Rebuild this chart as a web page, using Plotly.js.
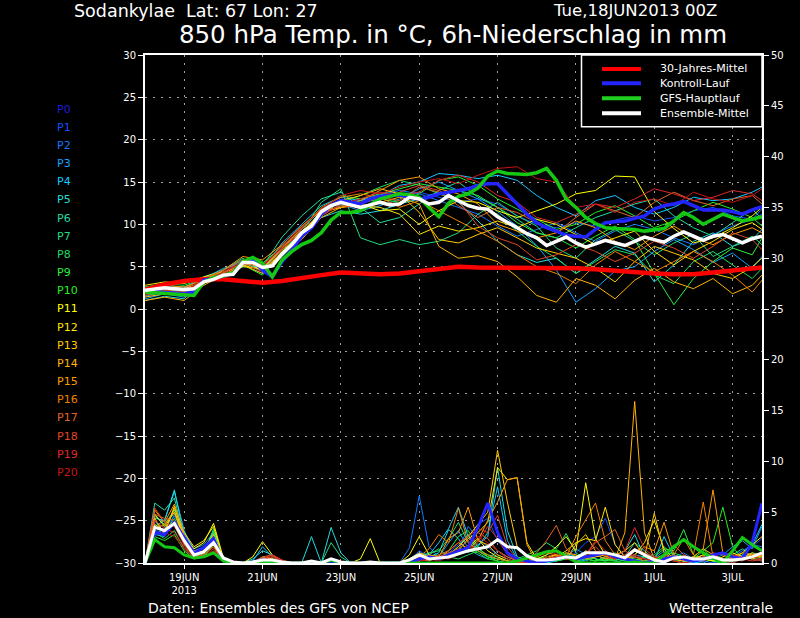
<!DOCTYPE html>
<html><head><meta charset="utf-8">
<script src="https://cdn.plot.ly/plotly-3.0.1.min.js"></script>
<style>html,body{margin:0;padding:0;background:#000;}#chart{width:800px;height:618px;}</style>
</head><body><div id="chart"></div>
<script>
// ---------- time axes (hours since 18JUN2013 00Z) ----------
const hours12 = [0,12,24,36,48,60,72,84,96,108,120,132,144,156,168,180,192,204,216,228,240,252,264,276,288,300,312,324,336,348,360,372,378];
const hours6 = [0,6,12,18,24,30,36,42,48,54,60,66,72,78,84,90,96,102,108,114,120,126,132,138,144,150,156,162,168,174,180,186,192,198,204,210,216,222,228,234,240,246,252,258,264,270,276,282,288,294,300,306,312,318,324,330,336,342,348,354,360,366,372,378];
const tickHours = [24,72,120,168,216,264,312,360];
const tickLabels = ["19JUN<br>2013","21JUN","23JUN","25JUN","27JUN","29JUN","1JUL","3JUL"];

// ---------- 850 hPa temperature, members P1..P20 (12h) ----------
const tP1 = [1.8,2.3,2.0,3.0,4.3,5.8,4.5,7.2,9.5,11.8,13.0,12.5, 13.0,13.4,13.8,13.2,12.6,13.0,12.4,11.0,10.0,9.6,10.2,9.8,10.5,11.0,10.4,10.8,11.6,12.0,11.0,10.6,11.2];
const tP2 = [1.5,2.0,1.8,3.4,4.0,5.2,4.2,6.6,9.0,11.2,12.2,12.8, 13.5,14.0,13.6,12.8,12.0,11.2,9.8,8.6,9.4,10.2,9.0,8.0,9.2,10.0,9.4,8.4,7.6,8.8,9.8,10.6,11.8];
const tP3 = [1.2,1.8,1.4,3.0,4.4,5.6,5.2,7.4,9.6,11.0,12.4,11.6, 12.2,13.0,14.2,15.0,14.0,13.0,11.5,9.8,7.5,4.6,0.8,2.4,4.5,5.0,6.8,8.2,7.0,5.5,6.6,4.8,6.2];
const tP4 = [2.4,2.8,2.6,3.6,4.8,5.4,4.6,7.8,10.0,12.2,13.2,12.8, 13.4,14.6,15.0,16.0,15.8,15.4,15.8,15.2,13.4,12.0,11.0,12.8,13.4,12.0,11.2,12.0,13.2,12.8,13.0,13.8,14.4];
const tP5 = [1.0,1.5,1.2,3.5,3.6,5.0,5.0,6.2,8.6,10.8,11.6,11.2, 11.6,12.4,13.0,13.8,12.6,10.4,8.0,6.4,5.5,6.0,4.2,5.8,7.4,6.6,3.2,5.2,8.0,9.0,7.4,8.2,9.4];
const tP6 = [2.0,2.6,2.4,3.8,4.6,5.8,5.0,8.5,11.0,13.0,13.8,12.0, 10.2,10.8,12.4,14.0,15.0,13.2,12.0,10.6,9.0,8.4,9.6,10.8,11.6,12.4,13.0,11.0,9.6,8.6,10.2,11.8,10.6];
const tP7 = [2.2,2.4,2.0,3.0,4.6,6.0,4.4,6.8,9.0,12.6,14.2,8.4, 7.6,8.2,7.6,8.0,9.0,11.2,12.6,11.0,9.8,7.2,6.0,8.2,9.4,8.0,6.4,7.8,8.8,6.2,7.4,8.6,7.6];
const tP8 = [1.9,2.2,2.1,3.2,4.2,5.4,4.6,7.0,9.0,11.6,12.6,13.4, 14.4,15.2,14.6,13.6,12.8,12.0,11.2,9.2,7.4,6.0,4.2,5.6,7.0,6.4,4.0,3.0,5.6,6.8,5.2,3.6,4.8];
const tP9 = [2.6,3.0,2.8,3.6,4.2,5.6,5.4,7.4,9.4,11.8,13.4,13.0, 13.6,14.2,14.8,14.4,14.0,13.4,12.0,10.2,9.0,8.4,7.2,8.6,9.8,8.2,4.2,0.5,3.6,5.6,7.2,6.4,8.4];
const tP10 = [1.6,2.0,1.8,3.2,3.8,5.2,4.0,6.8,8.8,11.4,12.2,12.6, 13.0,12.6,13.6,15.2,15.6,14.6,13.0,11.8,10.6,9.4,10.0,11.4,12.2,11.0,9.6,10.4,11.6,12.6,11.8,10.8,9.8];
const tP11 = [2.0,2.6,2.4,3.2,4.0,5.2,4.6,6.6,9.0,11.4,12.0,12.4, 11.6,11.8,10.0,11.6,12.8,12.6,11.6,10.8,11.6,12.4,13.6,14.0,15.7,15.6,11.5,9.5,7.8,8.4,9.6,11.0,12.0];
const tP12 = [2.8,3.2,3.0,3.8,4.4,5.0,4.8,7.2,9.2,11.0,12.8,12.2, 12.0,11.2,8.8,9.8,9.2,9.6,10.4,9.6,10.6,10.0,8.8,7.6,8.4,9.2,6.8,5.2,6.8,8.0,9.4,10.2,9.4];
const tP13 = [1.4,1.8,1.6,3.4,4.2,5.6,4.8,7.0,8.6,11.0,12.8,13.4, 14.2,13.6,11.4,8.2,7.8,8.8,9.6,8.4,7.2,6.6,6.0,4.8,3.2,5.6,7.4,6.6,5.8,4.2,3.6,5.0,6.0];
const tP14 = [1.0,1.4,1.0,2.8,4.0,5.2,4.2,6.8,8.2,10.8,12.0,12.2, 12.6,13.2,12.4,7.4,6.0,6.3,5.6,3.8,1.6,0.8,3.6,2.8,1.2,3.4,4.8,3.2,2.4,3.6,1.8,2.8,4.0];
const tP15 = [2.4,2.8,2.6,3.4,4.6,6.2,5.8,7.6,9.8,11.6,12.0,12.8, 14.0,15.2,15.6,14.2,13.6,12.4,10.0,9.2,8.4,9.0,10.4,9.6,8.0,7.0,8.6,9.8,8.4,7.6,8.8,9.6,9.0];
const tP16 = [1.8,2.2,2.0,3.0,4.4,5.4,5.0,7.2,9.6,12.0,13.2,13.6, 13.2,12.0,12.8,11.6,10.4,9.2,8.0,6.4,5.0,4.2,3.0,5.2,6.8,5.6,4.4,5.6,6.8,5.6,4.0,2.0,3.4];
const tP17 = [2.2,2.6,2.4,3.6,4.6,5.8,4.8,7.6,9.8,11.8,12.6,12.4, 13.2,12.8,14.4,13.8,12.2,10.8,12.0,11.4,10.2,9.0,10.8,12.4,11.6,10.8,12.6,13.8,12.8,12.2,13.0,13.4,12.4];
const tP18 = [1.6,2.2,2.0,3.2,4.0,5.4,4.4,7.0,9.4,11.2,12.2,12.0, 12.8,13.8,14.6,14.0,12.8,9.8,8.4,7.6,5.8,6.4,7.6,6.8,5.6,6.6,8.0,7.2,6.0,7.4,9.0,8.2,7.0];
const tP19 = [2.4,2.6,2.2,3.4,4.2,5.6,5.2,7.2,9.0,11.0,12.4,13.0, 13.8,13.4,13.8,15.2,15.8,15.0,13.4,12.6,10.8,10.2,11.2,12.4,12.0,13.0,14.2,13.6,12.8,13.2,14.0,13.6,12.8];
const tP20 = [2.0,2.4,2.2,3.2,4.4,5.6,5.0,7.4,9.6,11.8,13.4,14.0, 13.6,14.4,15.0,15.4,14.8,15.8,16.6,16.8,15.4,15.0,12.0,12.4,11.4,12.6,13.0,12.2,13.8,13.0,12.6,13.4,14.2];

// ---------- thick temperature lines ----------
const tClimate = [2.3,2.9,3.3,3.5,3.5,3.3,3.1,3.3,3.7,4.0,4.3,4.2, 4.1,4.2,4.5,4.8,5.0,4.9,4.9,4.8,4.8,4.8,4.8,4.7,4.5,4.4,4.2,4.1,4.1,4.3,4.5,4.7,4.9];
const tControl = [2.1,2.0,2.0,1.9,1.8,2.0,3.4,3.6, 3.9,4.2,5.6,5.8,4.6,3.8,5.6,7.0, 8.6,9.6,11.2,12.2,12.8,12.6,12.4,13.0, 13.3,13.4,13.5,13.2,13.0,13.2,13.6,13.8, 14.0,14.2,14.6,14.8,14.8,13.6,12.5,11.2, 10.2,9.6,9.2,8.7,8.6,8.5,9.4,10.2, 10.3,10.4,10.7,11.0,11.8,12.2,12.4,12.7, 12.2,11.7,11.7,11.7,11.5,11.2,11.7,12.1];
const tGFS = [2.0,1.9,1.8,1.7,1.6,1.6,3.2,3.7, 3.9,4.3,5.6,6.1,5.4,3.8,5.8,6.8, 7.6,8.1,9.0,10.5,11.4,11.4,11.6,12.3, 13.0,13.3,13.6,13.5,13.2,12.0,10.9,12.5, 13.3,13.6,14.3,15.7,16.3,16.0,15.9,15.9, 16.1,16.6,15.2,13.0,12.0,10.8,10.1,9.6, 9.5,9.5,9.4,9.2,9.3,9.5,10.4,11.4, 10.8,10.0,10.6,11.2,10.8,10.4,10.6,10.9];
const tMean = [2.2,2.4,2.5,2.4,2.3,2.4,3.2,3.5, 4.0,4.1,5.5,5.5,4.9,5.1,6.5,7.6, 9.0,9.8,11.5,12.2,12.6,12.3,12.0,12.3, 12.6,12.3,12.4,13.2,13.0,12.4,12.6,13.4, 12.8,12.2,11.9,11.8,10.9,10.3,9.6,8.9, 8.4,7.5,8.0,8.5,7.8,7.3,7.7,8.1, 7.8,7.5,8.0,8.5,8.2,7.9,8.6,9.1, 8.6,8.1,8.6,8.8,8.3,7.8,8.3,8.6];

// ---------- 6h precipitation (mm), members P1..P20 ----------
const pP1 = [0,4.0,3.5,4.6,2.8,1.2,1.6,2.6, 0.3,0,0,0.2,0.5,0.3,0,0, 0,0,0,0,0,0,0,0, 0,0,0,0.3,1.2,0.6,0.4,1.0, 1.8,2.6,3.8,4.4,2.2,1.0,0.4,0, 0,0.2,0.6,0.4,1.0,2.0,2.6,4.4, 1.8,0.6,0.3,0.2,0,0,0.4,0.2, 0,0.2,0.6,0.4,0.2,0.8,1.6,2.4];
const pP2 = [0,3.2,3.0,3.8,2.2,0.9,1.2,2.2, 0.2,0,0,0,0.2,0.1,0,0, 0,0,0,0,0,0,0,0, 0,0,0,1.5,6.6,1.6,0.6,0.8, 1.2,3.6,2.4,1.6,0.8,0.4,0,0, 0.2,0,0.4,0.8,0.6,1.2,0.8,0.4, 0.2,0,0.6,0.4,0.2,0,0.6,1.0, 0.4,0.2,0,0.3,0.6,1.2,1.8,1.6];
const pP3 = [0,2.8,2.6,4.8,3.0,1.4,1.8,3.0, 0.4,0,0,0,0.3,0.2,0,0, 0,0,0,0.3,0,0,0,0, 0,0,0,0.4,1.0,0.8,0.6,2.0, 3.2,1.4,0.8,0.4,1.2,0.6,0.2,0, 0,0.4,0.2,0.6,1.4,0.8,0.4,0.2, 0.6,0.4,0.2,0,0.4,1.2,0.8,0.2, 0,0,0.4,0.8,1.6,2.2,1.4,3.6];
const pP4 = [0,4.4,4.2,7.0,3.2,1.0,1.4,2.8, 0.3,0,0,0.2,1.6,0.6,0,0, 0,0,0,0,0,0,0,0, 0,0,0,0.2,0.4,0.8,2.0,3.4, 5.5,2.6,1.6,3.0,7.5,2.2,0.4,0.2, 0,0,0.3,0.8,0.4,0.2,0.6,1.0, 0.4,0.2,0.8,0.6,0.2,2.6,0.6,0.2, 0,0.2,0.6,0.2,0,0.6,1.8,3.8];
const pP5 = [0,3.6,4.2,7.2,2.6,0.8,1.0,2.4, 0.2,0,0,0.4,1.2,0.8,0.2,0, 0,2.6,0,3.5,1.0,0,0,0, 0,0,0,0,0.2,0.6,1.0,3.3, 2.4,1.0,1.8,2.6,9.4,3.2,0.6,0.3, 0,0,0.2,0.4,0.6,0.8,0.4,0.2, 0.6,1.2,2.8,0.6,0.2,0.4,0.8,0.3, 0.2,0.4,0.2,0,0.4,0.8,0.6,0.4];
const pP6 = [0,5.9,5.2,6.4,2.4,0.7,1.2,3.0, 0.3,0,0,0,0.4,0.2,0,0, 0,0,0,0,0,0,0,0, 0,0,0,0,0.3,0.6,0.4,0.8, 1.6,2.8,1.2,0.6,0.4,0.2,0,0, 0.4,0.8,1.2,0.6,0.2,0.4,0.8,0.4, 0.2,0.6,2.0,1.2,0.4,0.6,0.3,0, 0.2,0.6,0.4,0.2,0.8,1.4,0.6,1.0];
const pP7 = [0,4.6,3.8,5.2,2.0,0.6,0.8,3.4, 0.4,0,0,0,0.3,0.2,0,0, 0,0,0,2.0,0.6,0,0,0, 0,0,0,0.2,0.6,1.0,1.2,2.4, 4.0,2.0,1.4,0.8,0.6,0.2,0,0, 0,0,0.4,1.0,0.6,0.4,0.2,0.6, 1.0,0.4,0.2,0.6,0.8,1.6,0.8,0.4, 0.6,1.4,0.4,0.2,0,0.4,1.0,0.8];
const pP8 = [0,3.0,2.4,3.2,1.4,0.5,0.6,2.0, 0.1,0,0,0,0.2,0.4,0,0, 0,0,0,0,0,0,0,0, 0,0,0,0,0.2,0.8,1.4,0.6, 0.4,0.8,1.2,0.6,0.2,0,0.4,0.8, 1.2,2.0,1.4,2.9,1.0,0.4,0.2,0.6, 0.4,0.2,0,0.2,0.4,0.6,0.2,0, 0.4,0.8,0.2,0,0.2,0.6,0.4,0.2];
const pP9 = [0,4.2,3.0,4.4,2.2,0.6,0.9,3.2, 0.2,0,0,0,0.2,0.1,0,0, 0,0,0,0.4,0,0,0,0, 0,0,0,0,0.4,0.6,0.8,1.2, 2.6,3.2,1.6,0.6,0.4,0.2,0,0.2, 0.4,0.6,0.8,0.4,0.2,0.6,0.4,0.2, 0.4,0.6,0.4,0.2,0.6,1.4,1.2,3.3, 0.8,0.4,0.2,0,0.4,0.6,0.4,0.6];
const pP10 = [0,2.6,2.2,2.8,1.2,0.4,0.6,1.8, 0.1,0,0,0,0.2,0.1,0,0, 0,0,0,0,0,0,0,0, 0,0,0,0,0.2,0.6,0.4,0.6, 0.8,1.2,1.0,0.4,0.2,0,0,0.2, 0.6,0.4,0.2,0.4,0.8,0.4,0.2,0.4, 0.2,0,0.2,0.6,0.4,0.8,1.0,0.6, 0.4,1.2,2.0,5.5,1.6,0.4,0.6,0.8];
const pP11 = [0,4.8,3.6,5.0,2.6,1.4,2.0,3.9, 0.5,0,0,0.6,2.1,0.8,0,0, 0,0,0,0,0,0,0.4,2.4, 0,0,0,0.8,2.6,0.8,0.4,0.6, 1.0,1.6,2.4,1.2,0.6,0.2,0,0.2, 0.4,0.8,1.6,2.6,1.2,7.9,2.4,0.8, 0.4,0.6,1.2,0.8,0.2,0.6,0.4,0.2, 0.6,0.4,0.2,0.6,1.0,0.6,0.4,0.8];
const pP12 = [0,3.8,3.2,5.4,3.0,1.6,2.2,3.6, 0.4,0,0,0,0.6,0.4,0,0, 0,0,0,0,0,0,0,0, 0,0,0,0.2,0.6,0.4,0.6,0.8, 1.2,2.4,3.0,4.0,9.4,8.2,8.4,2.0, 0.4,0.2,0.6,1.2,2.0,2.4,2.2,5.5, 1.8,0.6,0.8,2.0,4.2,1.4,0.4,0.2, 0.4,0.8,0.6,0.2,0.4,1.0,1.8,2.6];
const pP13 = [0,4.4,2.8,5.6,2.4,1.2,1.4,2.8, 0.3,0,0,0,0.3,0.2,0,0, 0,0,0,0,0,0,0,0, 0,0,0,0.4,1.0,0.6,0.4,0.8, 1.6,2.6,3.8,5.0,11.1,6.0,1.6,0.6, 0.2,0.6,0.8,0.4,1.8,2.8,1.2,0.6, 0.8,1.2,2.0,0.6,4.9,1.0,0.4,0.2, 0.6,1.4,0.8,0.4,0.2,0.6,1.0,0.4];
const pP14 = [0,3.4,3.8,5.0,2.2,0.8,1.0,2.0, 0.2,0,0,0,0.2,0.1,0,0, 0,0,0,0,0,0,0,0, 0,0,0,0,0.3,0.6,0.4,1.2, 2.0,1.4,2.2,1.8,0.8,0.4,0,0, 0.2,0.4,0.6,1.0,0.8,0.4,0.6,0.8, 0.4,3.0,15.9,3.0,0.4,0.8,0.4,0.2, 0.4,0.8,0.6,0.3,0.6,1.0,0.8,0.6];
const pP15 = [0,5.2,4.0,5.8,2.8,1.0,1.2,2.4, 0.3,0,0,0,0.4,0.6,0.2,0, 0,0,0,0,0,0,0,0, 0,0,0,0,0.4,0.8,0.6,2.4, 3.0,5.5,2.2,4.2,6.0,8.2,8.4,1.8, 0,0.4,0.8,0.6,0.4,1.2,0.8,0.4, 0.6,0.4,0.8,1.6,1.2,4.0,0.8,0.4, 0.6,1.4,7.2,1.0,0.4,0.6,0.8,1.0];
const pP16 = [0,3.0,2.8,4.0,1.8,0.6,0.8,1.6, 0.1,0,0,0,0.2,0.4,0,0, 0,0,0,0,0,0,0,0, 0,0,0,0,0.6,1.4,2.8,2.0, 5.4,2.0,1.2,0.8,0.4,0.2,0,0.2, 0.6,1.0,0.8,0.6,2.6,4.2,5.9,2.2, 0.8,0.4,0.6,0.2,0,0.4,0.8,2.4, 0.8,6.0,0.6,0.4,0.2,0.4,0.6,0.8];
const pP17 = [0,4.8,4.4,4.2,2.0,0.8,1.0,2.2, 0.2,0,0,0,0.6,0.8,0.2,0, 0,0,0,0,0,0,0,0, 0,0,0,0,0.4,0.2,0.6,1.0, 1.4,2.2,3.0,2.4,1.2,0.6,0.2,0.4, 1.0,2.2,3.7,1.4,0.6,0.8,2.0,2.6, 3.3,1.2,0.6,0.4,0.2,0.6,1.8,0.8, 0.4,0.6,1.0,0.8,0.4,0.2,0.6,0.8];
const pP18 = [0,5.4,4.0,3.6,1.8,0.6,0.8,1.8, 0.2,0,0,0,0.4,0.8,0.3,0, 0,0,0,0,0,0,0,0, 0,0,0,0,0.2,0.4,0.8,1.2, 2.0,2.6,3.4,3.0,4.7,1.6,0.4,0.2, 0,0.4,0.6,0.8,0.4,1.0,1.6,0.6, 0.4,0.8,1.4,1.0,0.6,0.4,0.2,0, 0.2,0.4,0.8,1.0,0.8,0.4,0.2,0.4];
const pP19 = [0,4.2,3.4,3.0,1.6,0.5,0.6,1.4, 0.1,0,0,0,0.4,0.8,0.2,0, 0,0,0,0,0,0,0,0, 0,0,0,0,0.2,0.4,0.6,0.4, 0.8,1.2,2.0,3.6,2.4,0.8,0.2,0, 0.2,0.4,0.6,0.4,0.2,0.8,2.2,1.2, 0.6,1.2,3.5,1.4,0.6,0.2,0.4,0.6, 0.4,0.2,0.6,1.0,0.8,0.6,0.4,0.2];
const pP20 = [0,3.6,3.0,2.6,1.4,0.4,0.6,1.2, 0.1,0,0,0,0.3,0.6,0.2,0, 0,0,0,0,0,0,0,0, 0,0,0,0,0.2,0.4,0.2,0.6, 1.0,1.8,2.6,2.0,1.2,0.4,0,0, 0.2,0.6,1.0,0.6,0.4,0.6,1.2,0.8, 0.4,0.6,0.8,0.4,0.2,0.4,0.2,0, 0.2,0.4,0.6,0.2,0,0.4,0.6,0.4];

const pControl = [0,3.0,2.8,4.0,2.5,1.0,1.5,2.4, 0.2,0,0,0,0.3,0.2,0,0, 0,0,0,0,0,0,0,0, 0,0,0,0,0.4,0.6,0.4,0.8, 1.2,1.5,3.5,5.9,3.0,1.0,0.4,0.2, 0,0.2,0.4,0.6,0.4,0.6,0.8,1.0, 0.6,0.4,0.2,0,0.2,0.4,0.6,0.4, 0.2,0.4,0.8,1.0,0.6,0.4,2.0,5.9];
const pGFS = [0,2.3,1.6,1.5,0.8,0.5,0.6,1.0, 0.2,0,0,0,0.1,0.1,0,0, 0,0,0,0.3,0,0,0,0, 0,0,0,0,0,0,0,0, 0,0,0,0,0,0,0.2,0.5, 0.8,1.1,1.2,0.7,0.1,0,0,0, 0,0,0.1,0,0,0.8,1.6,2.3, 1.6,1.0,0.5,0,1.2,2.5,1.8,1.2];
const pMean = [0,3.5,3.2,3.9,2.2,0.8,1.1,2.0, 0.5,0.1,0,0.1,0.3,0.3,0.1,0, 0,0.2,0,0.4,0.1,0,0,0.1, 0,0,0,0.3,0.8,0.4,0.5,0.6, 0.9,1.2,1.4,1.6,2.3,1.6,1.5,0.7, 0.3,0.3,0.4,0.6,0.5,1.0,1.0,1.0, 0.8,0.5,1.3,0.8,0.3,0.1,0.5,0.6, 0.4,0.4,0.6,0.3,0.3,0.4,0.6,1.0];

const memberNames = ["P1","P2","P3","P4","P5","P6","P7","P8","P9","P10","P11","P12","P13","P14","P15","P16","P17","P18","P19","P20"];
const labelNames = ["P0"].concat(memberNames);
const legendNames = ["30-Jahres-Mittel","Kontroll-Lauf","GFS-Hauptlauf","Ensemble-Mittel"];

const tempMembers = [tP1,tP2,tP3,tP4,tP5,tP6,tP7,tP8,tP9,tP10,tP11,tP12,tP13,tP14,tP15,tP16,tP17,tP18,tP19,tP20];
const precMembers = [pP1,pP2,pP3,pP4,pP5,pP6,pP7,pP8,pP9,pP10,pP11,pP12,pP13,pP14,pP15,pP16,pP17,pP18,pP19,pP20];

// ---------- styling ----------
const labelColors = ["#1c1cd8","#1450ff","#1478ff","#14a0ff","#14c8ff","#20dcdc","#20dca0","#20dc80","#20dc60","#28f040","#20f020","#ffff00","#ffe600","#ffcc00","#ffb400","#ff9c00","#f08200","#e06428","#e04628","#e02828","#c81414"];
const memberColors = labelColors.slice(1);
const cClimate = "#ff0000", cControl = "#2424ff", cGFS = "#14c814", cMean = "#ffffff";
const FONT = "DejaVu Sans, Liberation Sans, sans-serif";

const L = 145, R = 762, T = 55, B = 563;
const px = x => (x - L) / (R - L);
const py = y => (B - y) / (B - T);

const traces = [];
tempMembers.forEach((arr, i) => traces.push({x: hours12, y: arr, type: 'scatter', mode: 'lines', name: memberNames[i],
  line: {color: memberColors[i], width: 1}, yaxis: 'y', hoverinfo: 'skip', showlegend: false}));
precMembers.forEach((arr, i) => traces.push({x: hours6, y: arr, type: 'scatter', mode: 'lines', name: memberNames[i],
  line: {color: memberColors[i], width: 1}, yaxis: 'y2', hoverinfo: 'skip', showlegend: false}));
traces.push({x: hours12, y: tClimate, mode: 'lines', line: {color: cClimate, width: 4.5}, yaxis: 'y', showlegend: false, hoverinfo: 'skip'});
traces.push({x: hours6, y: tControl, mode: 'lines', line: {color: cControl, width: 3.5}, yaxis: 'y', showlegend: false, hoverinfo: 'skip'});
traces.push({x: hours6, y: pControl, mode: 'lines', line: {color: cControl, width: 3}, yaxis: 'y2', showlegend: false, hoverinfo: 'skip'});
traces.push({x: hours6, y: tGFS, mode: 'lines', line: {color: cGFS, width: 3.5}, yaxis: 'y', showlegend: false, hoverinfo: 'skip'});
traces.push({x: hours6, y: pGFS, mode: 'lines', line: {color: cGFS, width: 3}, yaxis: 'y2', showlegend: false, hoverinfo: 'skip'});
traces.push({x: hours6, y: tMean, mode: 'lines', line: {color: cMean, width: 3.5}, yaxis: 'y', showlegend: false, hoverinfo: 'skip'});
traces.push({x: hours6, y: pMean, mode: 'lines', line: {color: cMean, width: 3}, yaxis: 'y2', showlegend: false, hoverinfo: 'skip'});

const annotations = [];
labelNames.forEach((n, i) => annotations.push({text: n, xref: 'paper', yref: 'paper', x: px(55), y: py(109 + 18.17 * i),
  xanchor: 'left', yanchor: 'middle', showarrow: false, font: {family: FONT, size: 11, color: labelColors[i]}}));
const legRows = [69, 83.3, 98.3, 113.3];
const legColors = [cClimate, cControl, "#20d020", cMean];
const shapes = [{type: 'rect', xref: 'paper', yref: 'paper', x0: px(581.5), x1: px(762), y0: py(126.7), y1: py(55),
  line: {color: '#ffffff', width: 1.5}, fillcolor: '#000000', layer: 'above'}];
legendNames.forEach((n, i) => {
  shapes.push({type: 'line', xref: 'paper', yref: 'paper', x0: px(602), x1: px(641), y0: py(legRows[i]), y1: py(legRows[i]),
    line: {color: legColors[i], width: 4}, layer: 'above'});
  annotations.push({text: n, xref: 'paper', yref: 'paper', x: px(658), y: py(legRows[i]), xanchor: 'left', yanchor: 'middle',
    showarrow: false, font: {family: FONT, size: 11, color: '#ffffff'}});
});
annotations.push({text: 'Sodankylae&nbsp;&nbsp;Lat: 67 Lon: 27', xref: 'paper', yref: 'paper', x: px(72), y: py(11),
  xanchor: 'left', yanchor: 'middle', showarrow: false, font: {family: FONT, size: 17.5, color: '#ffffff'}});
annotations.push({text: 'Tue,18JUN2013 00Z', xref: 'paper', yref: 'paper', x: px(719), y: py(10.5),
  xanchor: 'right', yanchor: 'middle', showarrow: false, font: {family: FONT, size: 16.5, color: '#ffffff'}});
annotations.push({text: 'Daten: Ensembles des GFS von NCEP', xref: 'paper', yref: 'paper', x: px(146), y: py(607.5),
  xanchor: 'left', yanchor: 'middle', showarrow: false, font: {family: FONT, size: 14, color: '#ffffff'}});
annotations.push({text: 'Wetterzentrale', xref: 'paper', yref: 'paper', x: px(775), y: py(607.5),
  xanchor: 'right', yanchor: 'middle', showarrow: false, font: {family: FONT, size: 14, color: '#ffffff'}});

const axisCommon = {showline: true, linecolor: '#ffffff', linewidth: 2, ticks: 'outside', ticklen: 5, tickcolor: '#ffffff',
  tickwidth: 1, tickfont: {family: FONT, size: 10, color: '#ffffff'}, zeroline: false, fixedrange: true};

const layout = {
  width: 800, height: 618,
  margin: {l: L, r: 800 - R, t: T, b: 618 - B, pad: 0},
  paper_bgcolor: '#000000', plot_bgcolor: '#000000',
  showlegend: false,
  title: {text: '850 hPa Temp. in °C, 6h-Niederschlag in mm', font: {family: FONT, size: 24.5, color: '#ffffff'},
    x: 453 / 800, xanchor: 'center', y: 1 - 34 / 618, yanchor: 'middle'},
  xaxis: Object.assign({}, axisCommon, {range: [0, 378], tickmode: 'array', tickvals: tickHours, ticktext: tickLabels,
    mirror: true, showgrid: true, gridcolor: '#a0a0a0', gridwidth: 1, griddash: '2px,6px', ticklen: 4}),
  yaxis: Object.assign({}, axisCommon, {range: [-30, 30], tick0: -30, dtick: 5, showgrid: true, gridcolor: '#a0a0a0',
    gridwidth: 1, griddash: '2px,6px'}),
  yaxis2: Object.assign({}, axisCommon, {range: [0, 50], tick0: 0, dtick: 5, overlaying: 'y', side: 'right', showgrid: false}),
  shapes: shapes,
  annotations: annotations
};

Plotly.newPlot('chart', traces, layout, {displayModeBar: false, staticPlot: true});
</script></body></html>
